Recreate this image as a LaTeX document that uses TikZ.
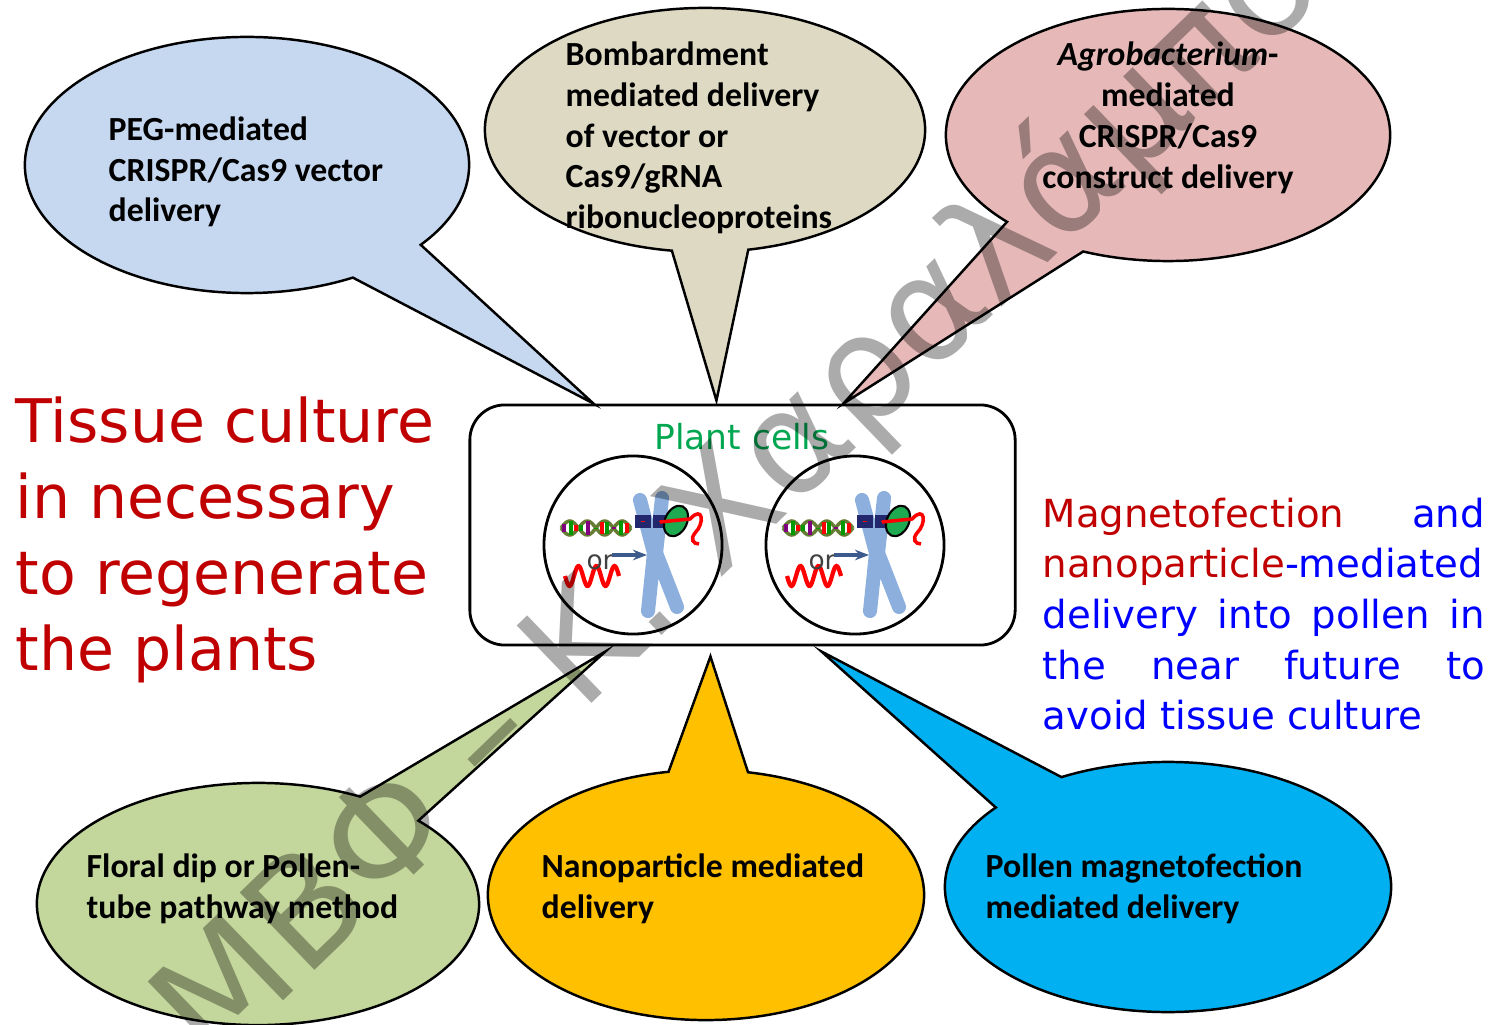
\documentclass[tikz,border=0pt]{standalone}
\usepackage{fontspec}
\setmainfont{Carlito}
\newfontfamily\comicfont{DejaVu Sans}
\usetikzlibrary{shapes.callouts, calc, arrows.meta}

\definecolor{pegblue}{RGB}{198,215,240}
\definecolor{bombbeige}{RGB}{221,217,195}
\definecolor{agropink}{RGB}{230,185,184}
\definecolor{floralgreen}{RGB}{195,214,155}
\definecolor{nanoyellow}{RGB}{255,192,0}
\definecolor{pollenblue}{RGB}{0,176,240}
\definecolor{titlered}{RGB}{192,0,0}
\definecolor{noteblue}{RGB}{0,0,255}
\definecolor{cellgreen}{RGB}{0,166,80}
\definecolor{dnagreen}{RGB}{100,125,50}
\definecolor{chromblue}{RGB}{140,175,222}
\definecolor{bandnavy}{RGB}{35,40,110}
\definecolor{casgreen}{RGB}{30,170,80}
\definecolor{arrowblue}{RGB}{60,90,140}

% one nucleus: DNA or RNA going into a chromosome cut by Cas9
\tikzset{
  nucleus/.pic={
    % DNA double helix
    \foreach \s in {1,-1}
      \draw[dnagreen, line width=1pt] plot[domain=-72:-2, samples=50] (\x, {-17+\s*7*sin((\x+72)*10.3)});
    \foreach \x/\col in {-69/violet, -62/green!60!black, -57/red, -52/green!60!black, -45/violet, -37/green!60!black, -31/red, -26/green!60!black, -19/violet, -12/green!60!black, -6/red}
      \draw[\col, line width=1pt] (\x, {-17-7*abs(sin((\x+72)*10.3))}) -- (\x, {-17+7*abs(sin((\x+72)*10.3))});
    % RNA
    \draw[red, line width=1.2pt] plot[domain=-68:-14, samples=60, smooth] (\x, {31+10*sin((\x+68)*20)});
    \node[font=\comicfont\fontsize{7.5}{7.5}\selectfont, text=black!75, inner sep=0pt] at (-33,17) {or};
    \draw[arrowblue, line width=1.3pt, -{Stealth[length=4pt]}] (-21,10) -- (14,10);
    % chromosome
    \draw[chromblue, line width=4pt, line cap=round, line join=round] (7,-45) -- (21,8) -- (15,66) (29,-47) -- (23,8) -- (44,62);
    \foreach \bx in {4,22}
      \filldraw[fill=red, draw=bandnavy, line width=1.6pt] (\bx+1,-27) rectangle (\bx+11,-20);
    % Cas9 and its guide
    \filldraw[fill=casgreen, draw=black, line width=0.6pt, rotate around={-25:(43,-24)}] (43,-24) ellipse (11 and 16);
    \draw[red, line width=1pt] (27,-23) -- (57,-26) .. controls (70,-40) and (72,-22) .. (62,-12) .. controls (57,-6) and (60,-1) .. (66,-1);
  }
}

\begin{document}
\begin{tikzpicture}[x=0.01cm, y=-0.01cm,
  bubble/.style={ellipse callout, draw=black, line width=0.7pt, inner sep=0pt, outer sep=0pt},
  bubbletext/.style={font=\bfseries\fontsize{9.6}{11.6}\selectfont, align=left, inner sep=0pt, anchor=west},
  cell/.style={circle, draw=black, line width=0.8pt, minimum size=1.78cm, inner sep=0pt}]

    \useasboundingbox (0,0) rectangle (1492,1025);
    \clip (0,0) rectangle (1492,1025);

    % Centre box
    \node[draw=black, line width=0.8pt, rounded corners=0.35cm, minimum width=5.45cm, minimum height=2.4cm, inner sep=0pt] (cells) at (742.5,525) {};

    % Top row of bubbles
    \node[bubble, fill=pegblue, minimum width=4.44cm, minimum height=2.56cm, callout pointer arc=23,
      callout absolute pointer={($(cells.north west)+(125,0)$)}] (peg) at (247,165) {};
    \node[bubble, fill=bombbeige, minimum width=4.4cm, minimum height=2.44cm, callout pointer arc=20,
      callout absolute pointer={($(cells.north west)+(248,-3)$)}] (bomb) at (705,130) {};
    \node[bubble, fill=agropink, minimum width=4.44cm, minimum height=2.52cm, callout pointer arc=24,
      callout absolute pointer={($(cells.north west)+(375,0)$)}] (agro) at (1168,135) {};

    % Bottom row of bubbles
    \node[bubble, fill=floralgreen, minimum width=4.42cm, minimum height=2.42cm, callout pointer arc=19,
      callout absolute pointer={($(cells.south west)+(137,5)$)}] (floral) at (258,904) {};
    \node[bubble, fill=nanoyellow, minimum width=4.36cm, minimum height=2.5cm, callout pointer arc=21,
      callout absolute pointer={($(cells.south west)+(242,10)$)}] (nano) at (706,895) {};
    \node[bubble, fill=pollenblue, minimum width=4.46cm, minimum height=2.5cm, callout pointer arc=22,
      callout absolute pointer={($(cells.south west)+(353,5)$)}] (pollen) at (1168,887) {};

    % Bubble texts
    \node[bubbletext] (pegtext) at (108,172) {PEG-mediated\\CRISPR/Cas9 vector\\delivery};
    \node[bubbletext] (bombtext) at (565,138) {Bombardment\\mediated delivery\\of vector or\\Cas9/gRNA\\ribonucleoproteins};
    \node[bubbletext, align=center, anchor=center] (agrotext) at (1168,118) {\textit{Agrobacterium}-\\mediated\\CRISPR/Cas9\\construct delivery};
    \node[bubbletext] (floraltext) at (86,889) {Floral dip or Pollen-\\tube pathway method};
    \node[bubbletext] (nanotext) at (541,889) {Nanoparticle mediated\\delivery};
    \node[bubbletext] (pollentext) at (985,889) {Pollen magnetofection\\mediated delivery};

    % Inside the box
    \node[font=\comicfont\fontsize{9.8}{12}\selectfont, text=cellgreen, anchor=base, inner sep=0pt] (title) at (742,449) {Plant cells};
    \node[cell] (lcell) at (633,545) {};
    \node[cell] (rcell) at (855,545) {};
    \pic at (lcell) {nucleus};
    \pic at (rcell) {nucleus};

    % Side notes
    \node[font=\comicfont\fontsize{17.1}{21.6}\selectfont, text=titlered, align=left, anchor=west, inner sep=0pt] (tissue) at (15,540)
      {Tissue culture\\in necessary\\to regenerate\\the plants};
    \node[font=\comicfont\fontsize{11}{14.4}\selectfont, text=noteblue, text width=4.42cm, align=justify, anchor=north west, inner sep=0pt] (pollennote) at (1042,497)
      {\textcolor{titlered}{Magnetofection} and\linebreak \textcolor{titlered}{nanoparticle}-mediated\linebreak delivery into pollen in\linebreak the near future to\linebreak avoid tissue culture};

    % Watermark
    \node[font=\comicfont\fontsize{42}{42}\selectfont, text=black, text opacity=0.33, rotate=44, anchor=base west, inner sep=0pt] (mark) at (212,1070) {ΜΒΦ – Κ. Χαραλάμπους};

\end{tikzpicture}
\end{document}
